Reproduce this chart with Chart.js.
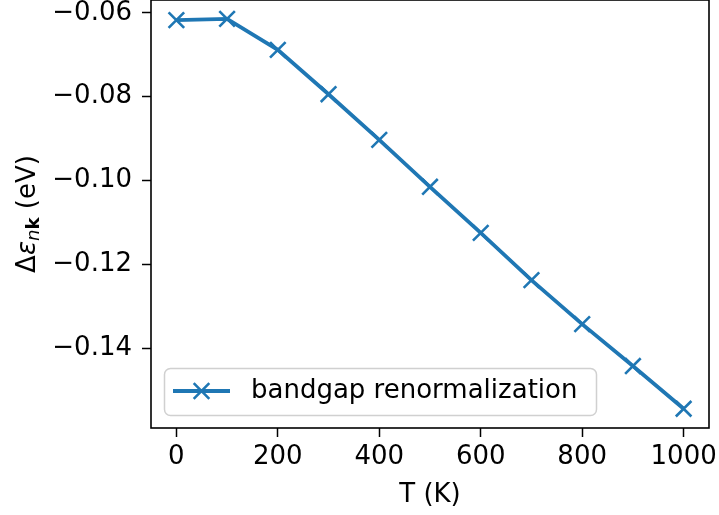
<!DOCTYPE html>
<html>
<head>
<meta charset="utf-8">
<script src="https://cdn.jsdelivr.net/npm/chart.js@4/dist/chart.umd.min.js"></script>
<style>
  html, body { margin: 0; padding: 0; background: #fff; }
</style>
</head>
<body>
<canvas id="grafico" width="719" height="515"></canvas>
<script>
// dados
const temperaturas = [0, 100, 200, 300, 400, 500, 600, 700, 800, 900, 1000];
const deltaE = [-0.0617, -0.0614, -0.0688, -0.0794, -0.0903, -0.1015, -0.1125, -0.1238, -0.1343, -0.1443, -0.1545];
const ticksX = [0, 200, 400, 600, 800, 1000];
const ticksY = [-0.14, -0.12, -0.10, -0.08, -0.06];
const limitesX = [-50, 1050];
const limitesY = [-0.1591, -0.0569];
const rotulo = 'bandgap renormalization';

const cor = '#1f77b4';
const fonte = '"DejaVu Sans"';
const tam = 26;

const menos = (v) => (v < 0 ? '\u2212' : '') + Math.abs(v).toFixed(2);

// moldura, título do eixo y e legenda
const extras = {
  id: 'extras',
  afterDraw(chart) {
    const { ctx, chartArea: a } = chart;
    ctx.save();
    ctx.strokeStyle = '#000';
    ctx.lineWidth = 1.6;
    ctx.strokeRect(a.left, a.top, a.right - a.left, a.bottom - a.top);

    // título do eixo y (com sub-índices)
    ctx.save();
    ctx.translate(35, (a.top + a.bottom) / 2);
    ctx.rotate(-Math.PI / 2);
    ctx.fillStyle = '#000';
    ctx.textBaseline = 'alphabetic';
    const partes = [
      { t: '\u0394', f: `${tam}px ${fonte}`, dy: 0 },
      { t: '\u03b5', f: `italic ${tam}px ${fonte}`, dy: 0 },
      { t: 'n', f: `italic ${tam * 0.7}px ${fonte}`, dy: 4 },
      { t: 'k', f: `bold ${tam * 0.7}px ${fonte}`, dy: 4 },
      { t: ' (eV)', f: `${tam}px ${fonte}`, dy: 0 }
    ];
    let total = 0;
    partes.forEach((p) => { ctx.font = p.f; p.w = ctx.measureText(p.t).width; total += p.w; });
    let x = -total / 2;
    partes.forEach((p) => { ctx.font = p.f; ctx.fillText(p.t, x, p.dy); x += p.w; });
    ctx.restore();

    // legenda
    const lx = a.left + 13, ly = a.bottom - 60, lw = 432, lh = 47;
    ctx.beginPath();
    ctx.roundRect(lx + 0.5, ly + 0.5, lw, lh, 6);
    ctx.fillStyle = 'rgba(255,255,255,0.8)';
    ctx.fill();
    ctx.strokeStyle = '#d0d0d0';
    ctx.lineWidth = 1.5;
    ctx.stroke();
    const cy = ly + 23;
    ctx.strokeStyle = cor;
    ctx.lineWidth = 3.8;
    ctx.beginPath();
    ctx.moveTo(lx + 9, cy);
    ctx.lineTo(lx + 66, cy);
    ctx.stroke();
    const cx = lx + 37.5, r = 7.8;
    ctx.lineWidth = 2.6;
    ctx.beginPath();
    ctx.moveTo(cx - r, cy - r); ctx.lineTo(cx + r, cy + r);
    ctx.moveTo(cx - r, cy + r); ctx.lineTo(cx + r, cy - r);
    ctx.stroke();
    ctx.fillStyle = '#000';
    ctx.font = `${tam}px ${fonte}`;
    ctx.textBaseline = 'middle';
    ctx.fillText(rotulo, lx + 87, cy);
    ctx.restore();
  }
};

const ctx = document.getElementById('grafico').getContext('2d');

new Chart(ctx, {
  type: 'line',
  data: {
    datasets: [{
      label: rotulo,
      data: temperaturas.map((t, i) => ({ x: t, y: deltaE[i] })),
      borderColor: cor,
      backgroundColor: cor,
      borderWidth: 3.8,
      pointStyle: 'crossRot',
      pointRadius: 11,
      pointBorderWidth: 2.6,
      pointBorderColor: cor,
      tension: 0,
      fill: false,
      clip: false
    }]
  },
  options: {
    responsive: false,
    animation: false,
    devicePixelRatio: 1,
    layout: { autoPadding: false, padding: { left: 0, top: 0, right: 10, bottom: 0 } },
    plugins: { legend: { display: false }, tooltip: { enabled: false } },
    scales: {
      x: {
        type: 'linear',
        min: limitesX[0],
        max: limitesX[1],
        afterBuildTicks: (s) => { s.ticks = ticksX.map((v) => ({ value: v })); },
        afterFit: (s) => { s.height = 87; s.paddingLeft = 0; s.paddingRight = 0; },
        border: { display: false },
        grid: { drawOnChartArea: false, drawTicks: true, tickLength: 9, tickWidth: 1.5, tickColor: '#000' },
        ticks: { color: '#000', font: { family: 'DejaVu Sans', size: tam }, padding: 5, maxRotation: 0, autoSkip: false, callback: (v) => String(v) },
        title: { display: true, text: 'T (K)', color: '#000', font: { family: 'DejaVu Sans', size: tam }, padding: { top: 2 } }
      },
      y: {
        min: limitesY[0],
        max: limitesY[1],
        afterBuildTicks: (s) => { s.ticks = ticksY.map((v) => ({ value: v })); },
        afterFit: (s) => { s.width = 151; s.paddingTop = 0; s.paddingBottom = 0; },
        border: { display: false },
        grid: { drawOnChartArea: false, drawTicks: true, tickLength: 9, tickWidth: 1.5, tickColor: '#000' },
        ticks: { color: '#000', font: { family: 'DejaVu Sans', size: tam }, padding: 10, autoSkip: false, callback: menos }
      }
    }
  },
  plugins: [extras]
});
</script>
</body>
</html>
